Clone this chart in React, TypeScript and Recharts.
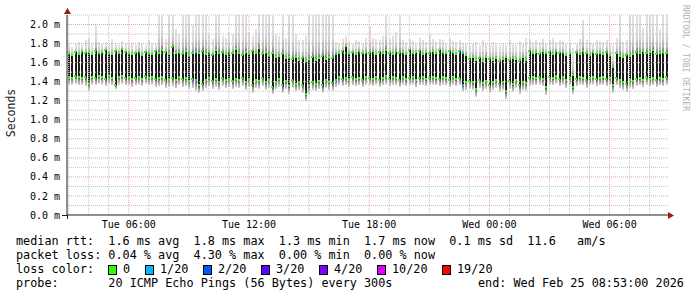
import React from 'react';
import { ComposedChart, Bar, Scatter, XAxis, YAxis, ReferenceLine } from 'recharts';

// 10-minute columns starting Tue 02:55 (minutes from start)
const coreHigh = [
  1.70,1.68,1.71,1.69,1.72,1.70,1.71,1.69,1.72,1.70,
  1.71,1.73,1.70,1.69,1.72,1.70,1.74,1.71,1.70,1.69,
  1.70,1.72,1.68,1.71,1.70,1.69,1.72,1.70,1.73,1.71,
  1.69,1.76,1.70,1.71,1.69,1.72,1.68,1.70,1.71,1.70,
  1.72,1.69,1.71,1.68,1.73,1.70,1.71,1.69,1.72,1.70,
  1.74,1.70,1.68,1.71,1.69,1.72,1.70,1.75,1.69,1.71,
  1.68,1.70,1.66,1.67,1.69,1.65,1.66,1.64,1.66,1.63,
  1.65,1.62,1.64,1.66,1.63,1.65,1.67,1.64,1.66,1.65,
  1.69,1.70,1.72,1.77,1.70,1.71,1.69,1.72,1.70,1.71,
  1.70,1.72,1.69,1.71,1.70,1.73,1.70,1.69,1.72,1.70,
  1.71,1.69,1.73,1.70,1.71,1.72,1.69,1.71,1.70,1.72,
  1.70,1.73,1.71,1.70,1.72,1.71,1.69,1.72,1.70,1.68,
  1.64,1.66,1.63,1.65,1.62,1.66,1.64,1.63,1.65,1.62,
  1.64,1.66,1.63,1.65,1.64,1.62,1.66,1.63,1.72,1.70,
  1.71,1.69,1.72,1.70,1.71,1.69,1.72,1.70,1.71,1.68,
  1.70,1.47,1.71,1.69,1.72,1.70,1.68,1.71,1.69,1.70,
  1.69,1.71,1.68,1.55,1.70,1.67,1.66,1.68,1.67,1.69,
  1.71,1.70,1.72,1.70,1.71,1.73,1.69,1.70,1.71,1.70,
];
const coreLow = [
  1.45,1.44,1.46,1.45,1.44,1.45,1.38,1.45,1.44,1.46,
  1.45,1.43,1.46,1.44,1.37,1.45,1.46,1.44,1.45,1.43,
  1.44,1.45,1.43,1.46,1.44,1.45,1.43,1.44,1.45,1.42,
  1.43,1.44,1.42,1.45,1.43,1.44,1.41,1.43,1.42,1.36,
  1.38,1.42,1.44,1.41,1.43,1.40,1.44,1.42,1.43,1.41,
  1.43,1.42,1.44,1.40,1.43,1.37,1.42,1.41,1.44,1.40,
  1.42,1.34,1.40,1.43,1.36,1.41,1.35,1.42,1.38,1.40,
  1.37,1.27,1.36,1.40,1.38,1.41,1.36,1.42,1.40,1.39,
  1.42,1.45,1.43,1.44,1.42,1.45,1.43,1.44,1.42,1.45,
  1.44,1.43,1.45,1.42,1.44,1.46,1.43,1.45,1.44,1.42,
  1.45,1.43,1.44,1.45,1.42,1.44,1.45,1.43,1.44,1.45,
  1.44,1.43,1.45,1.44,1.42,1.45,1.43,1.44,1.37,1.40,
  1.41,1.40,1.32,1.42,1.39,1.41,1.37,1.40,1.42,1.38,
  1.40,1.30,1.41,1.38,1.42,1.36,1.40,1.39,1.44,1.45,
  1.44,1.45,1.43,1.34,1.45,1.44,1.46,1.43,1.45,1.42,
  1.44,1.34,1.43,1.45,1.44,1.42,1.44,1.45,1.43,1.44,
  1.45,1.43,1.44,1.37,1.44,1.42,1.40,1.38,1.42,1.41,
  1.43,1.44,1.42,1.45,1.43,1.44,1.42,1.44,1.43,1.45,
];
const smokeTop = [
  1.78,1.76,1.80,1.82,1.79,1.84,1.86,1.80,2.00,1.82,
  1.80,1.82,1.78,1.85,1.80,1.79,1.83,1.80,1.78,1.81,
  1.79,1.82,1.80,1.78,1.84,1.81,1.80,2.10,2.10,1.85,
  2.10,2.10,1.95,1.90,2.10,2.10,2.10,2.00,2.10,2.10,
  2.10,2.10,1.90,1.85,2.10,2.10,1.88,1.86,1.92,1.90,
  2.10,2.10,2.10,2.10,1.92,1.88,1.95,2.10,2.10,2.10,
  2.10,2.10,1.90,1.88,2.10,1.86,2.10,2.10,1.90,1.84,
  1.84,1.88,2.10,2.10,2.10,2.10,2.10,2.10,2.10,2.10,
  1.82,1.80,1.85,1.88,1.82,1.80,1.84,1.83,1.80,1.86,
  1.98,1.86,1.85,1.84,1.88,2.10,1.86,1.88,1.92,2.10,
  1.84,1.82,1.85,1.83,1.80,1.86,1.84,1.82,1.90,1.85,
  1.82,1.85,1.84,1.80,1.86,1.83,1.82,1.84,1.81,1.80,
  1.78,1.80,1.82,1.78,1.84,1.80,1.79,1.82,1.80,1.78,
  1.80,1.78,1.84,1.80,1.79,1.83,1.80,1.86,1.85,1.82,
  1.84,1.82,1.85,1.80,1.84,1.86,1.82,1.84,1.83,1.80,
  1.82,1.75,1.80,1.85,2.05,1.84,1.82,1.80,1.84,1.83,
  1.82,1.84,1.80,1.78,1.86,2.10,1.82,1.84,2.10,2.10,
  2.10,2.10,1.96,2.10,2.10,2.10,2.10,1.94,2.10,2.10,
];
const smokeBottom = [
  1.36,1.37,1.38,1.36,1.37,1.35,1.30,1.37,1.36,1.38,
  1.37,1.35,1.38,1.36,1.32,1.37,1.38,1.36,1.37,1.34,
  1.36,1.37,1.35,1.38,1.36,1.37,1.34,1.35,1.36,1.33,
  1.34,1.35,1.33,1.36,1.34,1.35,1.32,1.33,1.30,1.28,
  1.30,1.33,1.35,1.32,1.34,1.31,1.35,1.33,1.34,1.32,
  1.34,1.33,1.35,1.31,1.34,1.28,1.33,1.32,1.35,1.31,
  1.33,1.27,1.32,1.34,1.28,1.32,1.27,1.33,1.30,1.31,
  1.28,1.20,1.27,1.31,1.30,1.32,1.28,1.33,1.31,1.30,
  1.34,1.36,1.35,1.36,1.34,1.36,1.35,1.36,1.34,1.37,
  1.36,1.35,1.37,1.34,1.36,1.37,1.35,1.37,1.36,1.34,
  1.37,1.35,1.36,1.37,1.34,1.36,1.37,1.35,1.36,1.37,
  1.36,1.35,1.37,1.36,1.34,1.37,1.35,1.36,1.30,1.31,
  1.32,1.31,1.24,1.33,1.30,1.32,1.28,1.31,1.33,1.29,
  1.31,1.22,1.32,1.29,1.33,1.27,1.31,1.30,1.35,1.36,
  1.36,1.37,1.35,1.26,1.37,1.36,1.38,1.35,1.37,1.33,
  1.36,1.27,1.35,1.37,1.36,1.33,1.36,1.37,1.35,1.36,
  1.36,1.35,1.36,1.28,1.36,1.33,1.31,1.29,1.33,1.32,
  1.35,1.36,1.34,1.37,1.35,1.36,1.34,1.36,1.35,1.37,
];
const lossColumns = [38, 80, 118]; // columns with 1/20 loss

const timeTicks = [185, 545, 905, 1265, 1625];
const timeLabels = ['Tue 06:00', 'Tue 12:00', 'Tue 18:00', 'Wed 00:00', 'Wed 06:00'];
const yTicks = [0, 0.2, 0.4, 0.6, 0.8, 1.0, 1.2, 1.4, 1.6, 1.8, 2.0];
const minorY = [0.1, 0.3, 0.5, 0.7, 0.9, 1.1, 1.3, 1.5, 1.7, 1.9, 2.1];
const hourLines = Array.from({ length: 30 }, (_, k) => 5 + 60 * k).filter((m) => !timeTicks.includes(m));

const lossLegend = [
  { label: '0', color: '#26ff00', x: 108 },
  { label: '1/20', color: '#00b8ff', x: 145 },
  { label: '2/20', color: '#0059ff', x: 203 },
  { label: '3/20', color: '#5e00ff', x: 261 },
  { label: '4/20', color: '#7e00ff', x: 319 },
  { label: '10/20', color: '#dd00ff', x: 377 },
  { label: '19/20', color: '#ff0000', x: 442 },
];

const rows = coreHigh.map((h, i) => ({
  t: i * 10 + 5,
  base: smokeBottom[i],
  lower: coreLow[i] - smokeBottom[i],
  core: h - coreLow[i],
  upper: smokeTop[i] - h,
  hi: h,
  lo: coreLow[i],
  loss: lossColumns.includes(i),
}));

const mono = "'DejaVu Sans Mono', monospace";

const MedianDot = (props: any) => {
  const { cx, cy, payload } = props;
  if (cx == null || cy == null) return null;
  return (
    <rect
      x={Math.round(cx - 1)}
      y={Math.round(cy - 1)}
      width={2}
      height={2}
      fill={payload.loss ? '#00b8ff' : '#26ff00'}
      shapeRendering="crispEdges"
    />
  );
};

const legendLine: React.CSSProperties = {
  position: 'absolute',
  left: 16,
  fontFamily: mono,
  fontSize: 11.8,
  lineHeight: '14px',
  whiteSpace: 'pre',
  color: '#000',
};

export default function App() {
  return (
    <div style={{ position: 'absolute', left: 0, top: 0, width: 697, height: 297, background: '#fff', overflow: 'hidden' }}>
      <style>{`.recharts-bar-rectangle path{shape-rendering:crispEdges}`}</style>
      <ComposedChart
        width={697}
        height={297}
        data={rows}
        margin={{ top: 15, right: 29, bottom: 62, left: 0 }}
        barSize={2}
        barGap={0}
      >
        <defs>
          <linearGradient id="gUp" x1="0" y1="1" x2="0" y2="0">
            <stop offset="0" stopColor="#707070" />
            <stop offset="0.15" stopColor="#b4b4b4" />
            <stop offset="0.45" stopColor="#d8d8d8" />
            <stop offset="1" stopColor="#e2e2e2" />
          </linearGradient>
          <linearGradient id="gDown" x1="0" y1="0" x2="0" y2="1">
            <stop offset="0" stopColor="#444444" />
            <stop offset="0.45" stopColor="#9a9a9a" />
            <stop offset="1" stopColor="#d6d6d6" />
          </linearGradient>
        </defs>
        <XAxis
          dataKey="t"
          type="number"
          domain={[0, 1800]}
          allowDataOverflow
          ticks={timeTicks}
          tickFormatter={(v: number) => timeLabels[timeTicks.indexOf(v)] ?? ''}
          tick={{ fontFamily: mono, fontSize: 10, fill: '#000' }}
          tickLine={false}
          tickSize={0}
          tickMargin={6}
          height={20}
          axisLine={{ stroke: '#222' }}
          interval={0}
        />
        <YAxis
          type="number"
          domain={[0, 2.1]}
          allowDataOverflow
          ticks={yTicks}
          tickFormatter={(v: number) => `${v.toFixed(1)} m`}
          tick={{ fontFamily: mono, fontSize: 10, fill: '#000' }}
          tickLine={false}
          tickSize={0}
          tickMargin={7}
          width={67}
          axisLine={{ stroke: '#222' }}
          interval={0}
        />
        {minorY.map((v) => (
          <ReferenceLine key={'my' + v} y={v} stroke="#c4c4c4" strokeDasharray="1 1" ifOverflow="visible" />
        ))}
        {hourLines.map((m) => (
          <ReferenceLine key={'mx' + m} x={m} stroke="#c4c4c4" strokeDasharray="1 1" />
        ))}
        {yTicks.slice(1).map((v) => (
          <ReferenceLine key={'My' + v} y={v} stroke="#e3a6a6" strokeDasharray="1 1" />
        ))}
        {timeTicks.map((m) => (
          <ReferenceLine key={'Mx' + m} x={m} stroke="#e3a6a6" strokeDasharray="1 1" />
        ))}
        <Bar dataKey="base" stackId="s" fill="transparent" isAnimationActive={false} />
        <Bar dataKey="lower" stackId="s" fill="url(#gDown)" isAnimationActive={false} />
        <Bar dataKey="core" stackId="s" fill="#1c1c1c" isAnimationActive={false} />
        <Bar dataKey="upper" stackId="s" fill="url(#gUp)" isAnimationActive={false} />
        <Scatter dataKey="hi" shape={MedianDot} isAnimationActive={false} />
        <Scatter dataKey="lo" shape={MedianDot} isAnimationActive={false} />
      </ComposedChart>

      <svg width={697} height={297} style={{ position: 'absolute', left: 0, top: 0, pointerEvents: 'none' }}>
        <line x1={62} y1={215.5} x2={67} y2={215.5} stroke="#222" />
        <line x1={67.5} y1={215} x2={67.5} y2={219} stroke="#222" />
        <polygon points="64,14 71,14 67.5,8" fill="#a01818" />
        <polygon points="668,212 668,219 674,215.5" fill="#a01818" />
        <text
          x={0}
          y={0}
          transform="translate(15,113) rotate(-90)"
          textAnchor="middle"
          fontFamily={mono}
          fontSize={11.5}
          fill="#222"
        >
          Seconds
        </text>
        <text
          x={0}
          y={0}
          transform="translate(683,5) rotate(90)"
          textAnchor="start"
          fontFamily={mono}
          fontSize={8}
          fill="#b0b0b0"
        >
          RRDTOOL / TOBI OETIKER
        </text>
      </svg>

      <div style={{ ...legendLine, top: 234 }}>median rtt:  1.6 ms avg  1.8 ms max  1.3 ms min  1.7 ms now  0.1 ms sd  11.6   am/s</div>
      <div style={{ ...legendLine, top: 248 }}>packet loss: 0.04 % avg  4.30 % max  0.00 % min  0.00 % now</div>
      <div style={{ ...legendLine, top: 262 }}>loss color:</div>
      {lossLegend.map((l) => (
        <React.Fragment key={l.label}>
          <div
            style={{
              position: 'absolute',
              left: l.x,
              top: 265,
              width: 7,
              height: 8,
              background: l.color,
              border: '1px solid #000',
            }}
          />
          <div style={{ ...legendLine, left: l.x + 15, top: 262 }}>{l.label}</div>
        </React.Fragment>
      ))}
      <div style={{ ...legendLine, top: 276 }}>probe:       20 ICMP Echo Pings (56 Bytes) every 300s</div>
      <div style={{ ...legendLine, left: 478, top: 276 }}>end: Wed Feb 25 08:53:00 2026</div>
    </div>
  );
}
